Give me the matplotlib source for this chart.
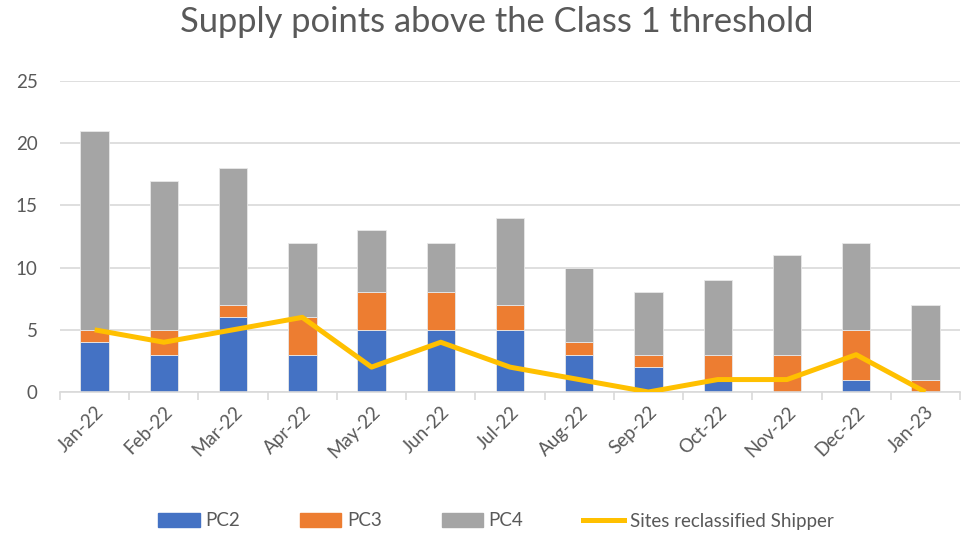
import numpy as np
import matplotlib.pyplot as plt
from matplotlib.lines import Line2D
from matplotlib.patches import Patch

months = ['Jan-22', 'Feb-22', 'Mar-22', 'Apr-22', 'May-22', 'Jun-22', 'Jul-22',
          'Aug-22', 'Sep-22', 'Oct-22', 'Nov-22', 'Dec-22', 'Jan-23']
pc2 = [4, 3, 6, 3, 5, 5, 5, 3, 2, 1, 0, 1, 0]
pc3 = [1, 2, 1, 3, 3, 3, 2, 1, 1, 2, 3, 4, 1]
pc4 = [16, 12, 11, 6, 5, 4, 7, 6, 5, 6, 8, 7, 6]
reclassified = [5, 4, 5, 6, 2, 4, 2, 1, 0, 1, 1, 3, 0]

plt.rcParams['font.family'] = ['Lato', 'DejaVu Sans']
grey_text = '#595959'

fig = plt.figure(figsize=(9.67, 5.35), dpi=100)
ax = fig.add_axes([60 / 967, 1 - 392 / 535, 900 / 967, 311 / 535])

x = np.arange(len(months))
w = 0.41
pc2 = np.array(pc2)
pc3 = np.array(pc3)
pc4 = np.array(pc4)
ax.bar(x, pc2, w, color='#4472c4', edgecolor='#e8e8e8', linewidth=0.6, zorder=2)
ax.bar(x, pc3, w, bottom=pc2, color='#ed7d31', edgecolor='#e8e8e8', linewidth=0.6, zorder=2)
ax.bar(x, pc4, w, bottom=pc2 + pc3, color='#a5a5a5', edgecolor='#e8e8e8', linewidth=0.6, zorder=2)
ax.plot(x, reclassified, color='#ffc000', linewidth=3.6, solid_joinstyle='round',
        solid_capstyle='butt', zorder=3)

ax.set_xlim(-0.5, len(months) - 0.5)
ax.set_ylim(0, 25)
ax.set_yticks(range(0, 26, 5))
ax.yaxis.grid(True, color='#d9d9d9', linewidth=1.2, zorder=0)
ax.set_axisbelow(True)
for s in ['top', 'right', 'left']:
    ax.spines[s].set_visible(False)
ax.spines['bottom'].set_color('#d9d9d9')
ax.spines['bottom'].set_linewidth(1.2)

# category labels centred, tick marks sitting between categories
ax.set_xticks(x)
ax.set_xticklabels(months, rotation=45, ha='right', rotation_mode='anchor',
                   fontsize=13.5, color=grey_text)
ax.tick_params(axis='x', which='major', length=0, pad=8)
ax.set_xticks(np.arange(-0.5, len(months), 1), minor=True)
ax.tick_params(axis='x', which='minor', length=6, color='#d9d9d9', width=1.2)
ax.tick_params(axis='y', length=0, labelsize=13.5, labelcolor=grey_text, pad=16)

fig.text(0.514, 1 - 22 / 535, 'Supply points above the Class 1 threshold',
         ha='center', va='center', fontsize=24.8, color=grey_text)

handles = [Patch(color='#4472c4'), Patch(color='#ed7d31'), Patch(color='#a5a5a5'),
           Line2D([], [], color='#ffc000', linewidth=3.6)]
labels = ['PC2', 'PC3', 'PC4', 'Sites reclassified Shipper']
fig.legend(handles, labels, loc='center', bbox_to_anchor=(0.513, 1 - 521 / 535),
           ncol=4, frameon=False, fontsize=13.5, labelcolor=grey_text,
           handlelength=2.2, handleheight=0.7, columnspacing=3.2, handletextpad=0.3)

fig.savefig('out.png', dpi=100)
